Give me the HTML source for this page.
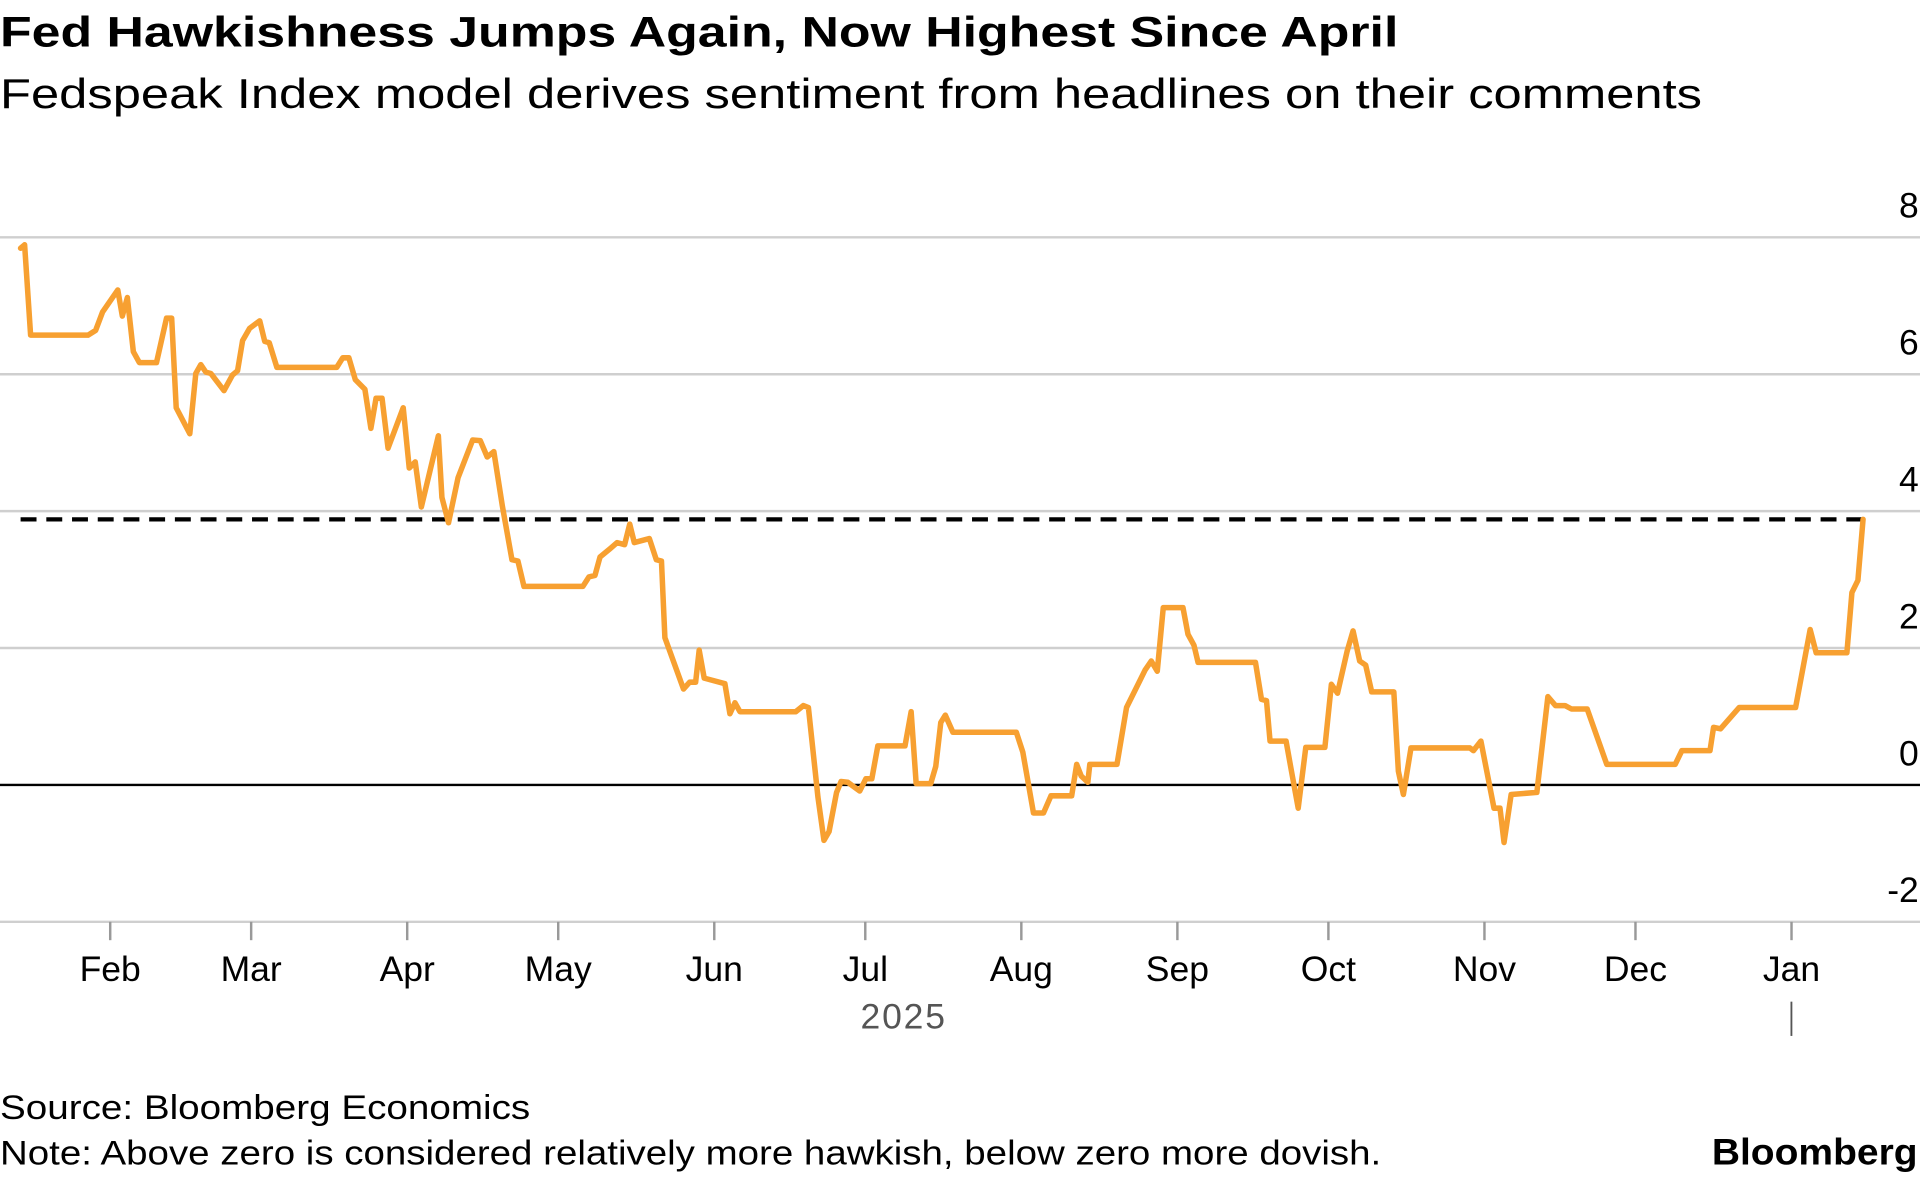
<!DOCTYPE html>
<html><head><meta charset="utf-8"><style>
html,body{margin:0;padding:0;background:#fff;}
svg{display:block;font-family:"Liberation Sans",Arial,sans-serif;}
</style></head><body>
<svg id="chart" width="1920" height="1178" viewBox="0 0 1568 962" xmlns="http://www.w3.org/2000/svg">
<text x="0" y="38" font-size="35" font-weight="bold" fill="#000" textLength="1142" lengthAdjust="spacingAndGlyphs">Fed Hawkishness Jumps Again, Now Highest Since April</text>
<text x="0" y="88" font-size="34" fill="#000" textLength="1390" lengthAdjust="spacingAndGlyphs">Fedspeak Index model derives sentiment from headlines on their comments</text>
<g id="grid"></g>
<g id="plot"></g>
<g id="xaxis"></g>
<text x="738" y="840" font-size="29" fill="#555" text-anchor="middle" letter-spacing="1.5">2025</text>
<line x1="1463" x2="1463" y1="818" y2="846" stroke="#555" stroke-width="1.5"/>
<text x="0" y="914" font-size="28" fill="#000" textLength="433" lengthAdjust="spacingAndGlyphs">Source: Bloomberg Economics</text>
<text x="0" y="951" font-size="28" fill="#000" textLength="1128" lengthAdjust="spacingAndGlyphs">Note: Above zero is considered relatively more hawkish, below zero more dovish.</text>
<text x="1566" y="951" font-size="30" font-weight="bold" fill="#000" text-anchor="end" textLength="168" lengthAdjust="spacingAndGlyphs">Bloomberg</text>
</svg>
<script>
const yTicks = [8, 6, 4, 2, 0, -2];
const monthLabels = ["Feb","Mar","Apr","May","Jun","Jul","Aug","Sep","Oct","Nov","Dec","Jan"];
const monthDays = [31,59,90,120,151,181,212,243,273,304,334,365];
const threshold = 3.88;
const days = [13.2,14.0,15.2,26.6,28.1,29.5,32.5,33.4,34.4,35.6,
36.8,40.2,42.2,43.2,44.1,46.8,48.0,49.0,50.0,51.0,
53.6,55.3,56.3,57.3,58.7,60.7,61.7,62.6,64.1,76.0,
77.2,78.4,79.7,81.6,82.8,83.8,85.0,86.2,89.2,90.4,
91.6,92.8,96.2,96.9,98.2,100.1,103.0,104.5,105.9,107.2,
108.9,110.8,112.0,113.2,124.9,126.1,127.3,128.3,130.3,131.7,
133.2,134.2,135.1,138.1,139.5,140.5,141.2,144.9,146.1,147.3,
148.0,149.0,153.1,154.1,155.1,156.1,167.2,168.7,169.7,171.6,
172.8,173.8,175.3,176.2,177.5,179.9,181.1,182.3,183.5,188.9,
190.1,191.1,194.0,195.0,196.0,196.9,198.4,211.0,212.3,214.4,
216.4,217.9,222.0,223.0,223.9,225.2,225.6,231.0,232.9,236.6,
237.8,239.0,240.2,244.1,245.1,246.3,247.1,258.5,259.7,260.7,
261.4,264.6,265.5,267.0,268.5,272.3,273.6,274.8,276.7,277.9,
279.2,280.4,281.6,286.0,286.9,287.9,289.4,301.1,301.8,303.3,
305.9,307.1,307.9,309.3,314.4,316.6,318.1,320.0,321.3,324.4,
328.3,341.9,343.2,348.8,349.5,350.9,354.6,365.8,368.7,369.9,
376.0,377.0,378.2,379.2];
const values = [7.84,7.89,6.57,6.57,6.64,6.91,7.23,6.85,7.12,6.33,
6.17,6.17,6.82,6.82,5.51,5.13,6.01,6.14,6.03,6.01,
5.76,5.99,6.05,6.49,6.67,6.78,6.48,6.46,6.10,6.10,
6.24,6.24,5.92,5.78,5.21,5.65,5.65,4.92,5.51,4.63,
4.72,4.06,5.10,4.20,3.83,4.49,5.04,5.03,4.79,4.87,
4.08,3.29,3.27,2.90,2.90,3.04,3.06,3.33,3.45,3.54,
3.51,3.81,3.54,3.60,3.29,3.27,2.15,1.40,1.50,1.50,
1.97,1.56,1.48,1.04,1.20,1.07,1.07,1.16,1.13,-0.18,
-0.81,-0.68,-0.11,0.05,0.04,-0.09,0.09,0.09,0.57,0.57,
1.07,0.02,0.02,0.27,0.91,1.02,0.77,0.77,0.48,-0.41,
-0.41,-0.16,-0.16,0.30,0.13,0.04,0.30,0.30,1.13,1.68,
1.81,1.66,2.59,2.59,2.20,2.04,1.79,1.79,1.25,1.23,
0.64,0.64,0.27,-0.34,0.55,0.55,1.47,1.34,1.95,2.25,
1.81,1.75,1.36,1.36,0.20,-0.14,0.54,0.54,0.50,0.64,
-0.34,-0.34,-0.84,-0.14,-0.11,1.29,1.16,1.16,1.11,1.11,
0.30,0.30,0.50,0.50,0.84,0.82,1.13,1.13,2.27,1.93,
1.93,2.81,2.99,3.88];

const NS = "http://www.w3.org/2000/svg";
const X0 = 0, X1 = 1568;
function xScale(d){ return 90 + (d - 31) * 4.111; }
function yScale(v){ return 641 - v * 55.9; }
function mk(tag, attrs, parent){ const e = document.createElementNS(NS, tag); for (const k in attrs) e.setAttribute(k, attrs[k]); parent.appendChild(e); return e; }

const grid = document.getElementById('grid');
const plot = document.getElementById('plot');
const xaxis = document.getElementById('xaxis');

yTicks.forEach(t => {
  const ln = mk('line', {x1: X0, x2: X1, y1: yScale(t), y2: yScale(t), stroke: t === 0 ? '#000' : '#cfcfcf', 'stroke-width': 2}, grid);
  
  
  const lb = mk('text', {x: 1567, y: yScale(t) - 16, 'font-size': 29, 'text-anchor': 'end', fill: '#000'}, grid);
  lb.textContent = String(t);
  
  
});

monthLabels.forEach((m, i) => {
  const x = xScale(monthDays[i]);
  const tk = mk('line', {x1: x, x2: x, y1: yScale(-2), y2: yScale(-2) + 15, stroke: '#999', 'stroke-width': 2}, xaxis);
  
  
  const lb = mk('text', {x: x, y: 801, 'font-size': 29, 'text-anchor': 'middle', fill: '#000'}, xaxis);
  lb.textContent = m;
  
  
});

const dash = mk('line', {x1: xScale(days[0]), x2: xScale(days[days.length - 1]), y1: yScale(threshold), y2: yScale(threshold), stroke: '#000', 'stroke-width': 3.5, 'stroke-dasharray': '13 8'}, plot);



const d = days.map((dd, i) => (i ? 'L' : 'M') + xScale(dd).toFixed(1) + ',' + yScale(values[i]).toFixed(1)).join(' ');
const path = mk('path', {d: d, fill: 'none', stroke: '#f7a031', 'stroke-width': 4.5, 'stroke-linejoin': 'round', 'stroke-linecap': 'round'}, plot);


</script>
</body></html>
